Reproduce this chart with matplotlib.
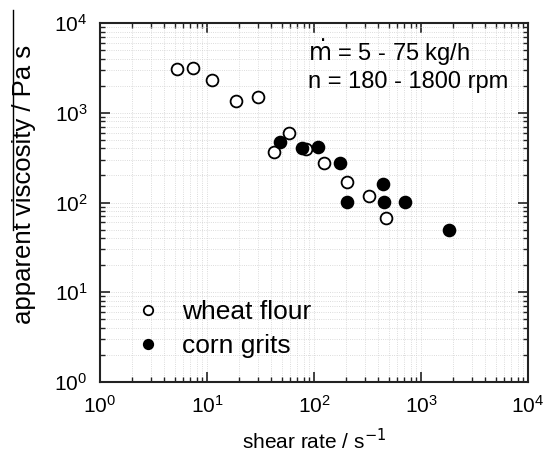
import matplotlib
matplotlib.use("Agg")
import matplotlib.pyplot as plt
from matplotlib.ticker import LogLocator, NullFormatter

plt.rcParams['font.family'] = ['Liberation Sans', 'DejaVu Sans']

# Data
wheat_rate = [5.3, 7.4, 11.2, 18.5, 30, 42, 59, 84, 124, 205, 330, 470]
wheat_visc = [3070, 3130, 2320, 1340, 1490, 362, 600, 394, 275, 171, 118, 68]
corn_rate = [48, 77, 108, 176, 203, 438, 454, 704, 1840]
corn_visc = [476, 405, 415, 273, 102, 162, 102, 102, 50]

W, H = 544, 454
fig = plt.figure(figsize=(W/100, H/100), dpi=100)
ax = fig.add_axes([100/W, 1 - 382/H, 428/W, 359/H])

ax.plot(wheat_rate, wheat_visc, "o", ls="none", mfc="white", mec="black",
        mew=1.3, ms=8.5, label="wheat flour", zorder=3)
ax.plot(corn_rate, corn_visc, "o", ls="none", mfc="black", mec="black",
        mew=1.3, ms=8.5, label="corn grits", zorder=3)

ax.set_xscale("log"); ax.set_yscale("log")
ax.set_xlim(1, 1e4); ax.set_ylim(1, 1e4)
for a in (ax.xaxis, ax.yaxis):
    a.set_major_locator(LogLocator(base=10, numticks=10))
    a.set_minor_locator(LogLocator(base=10, subs=range(2, 10), numticks=100))
    a.set_minor_formatter(NullFormatter())
ax.tick_params(which="both", direction="in", top=True, right=True, labelsize=15,
               color="#222222")
ax.tick_params(which="major", length=7, width=1.2, pad=9)
ax.tick_params(which="minor", length=3.5, width=1.0)
for s in ax.spines.values():
    s.set_linewidth(1.5); s.set_color("#222222")
ax.grid(which="both", ls=":", lw=0.6, color="#d0d0d0")

ax.set_xlabel("shear rate / s$^{-1}$", fontsize=15, labelpad=8)
fig.text(24/W, 1 - 184/H, "apparent viscosity / Pa s", rotation=90,
         ha="center", va="center", fontsize=18.5)
# overline drawn next to the y label in the original
fig.add_artist(plt.Line2D([13/W, 13/W], [1 - 10/H, 1 - 230/H],
                          color="black", lw=1.0))

ax.text(208/428, 1 - 30/359, "$\\dot{\\mathrm{m}}$ = 5 - 75 kg/h", transform=ax.transAxes,
        fontsize=17, va="center")
ax.text(208/428, 1 - 59/359, "n = 180 - 1800 rpm", transform=ax.transAxes,
        fontsize=17, va="center")

leg = ax.legend(loc="lower left", bbox_to_anchor=(0.02, 0.0), frameon=False,
                fontsize=19, markerscale=0.8, handletextpad=0.7, labelspacing=0.38,
                handlelength=1.2)

plt.savefig("out.png", dpi=100)
plt.close()
